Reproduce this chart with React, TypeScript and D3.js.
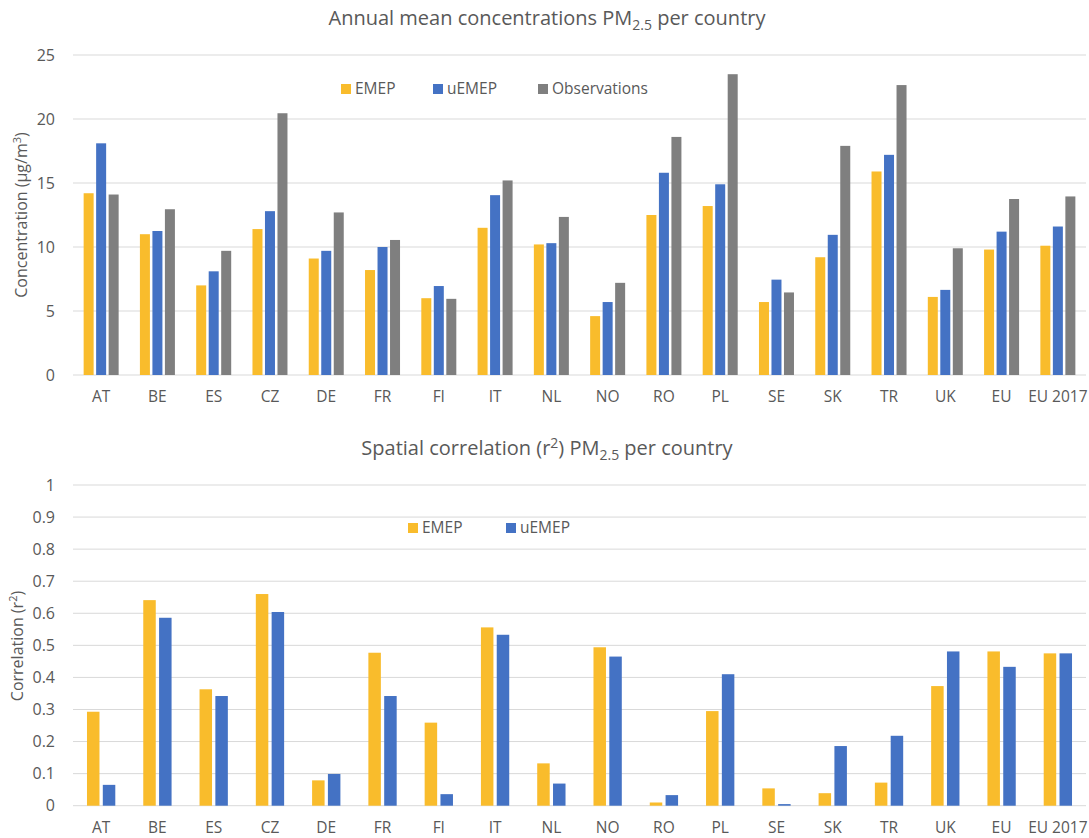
import React from "react";
import * as d3 from "d3";

// Countries / aggregates shown on both panels
const categories = ["AT", "BE", "ES", "CZ", "DE", "FR", "FI", "IT", "NL", "NO", "RO", "PL", "SE", "SK", "TR", "UK", "EU", "EU 2017"];

// Annual mean PM2.5 concentrations (µg/m³)
const concEMEP = [14.2, 11.0, 7.0, 11.4, 9.1, 8.2, 6.0, 11.5, 10.2, 4.6, 12.5, 13.2, 5.7, 9.2, 15.9, 6.1, 9.8, 10.1];
const concUEMEP = [18.1, 11.25, 8.1, 12.8, 9.7, 10.0, 6.95, 14.05, 10.3, 5.7, 15.8, 14.9, 7.45, 10.95, 17.2, 6.65, 11.2, 11.6];
const concObs = [14.1, 12.95, 9.7, 20.45, 12.7, 10.55, 5.95, 15.2, 12.35, 7.2, 18.6, 23.5, 6.45, 17.9, 22.65, 9.9, 13.75, 13.95];

// Spatial correlation (r²)
const corrEMEP = [0.293, 0.641, 0.363, 0.66, 0.079, 0.477, 0.259, 0.556, 0.132, 0.494, 0.01, 0.295, 0.054, 0.039, 0.072, 0.373, 0.481, 0.475];
const corrUEMEP = [0.065, 0.586, 0.342, 0.604, 0.099, 0.342, 0.036, 0.533, 0.069, 0.465, 0.033, 0.41, 0.005, 0.186, 0.218, 0.481, 0.433, 0.475];

const concTicks = [0, 5, 10, 15, 20, 25];
const corrTicks = [0, 0.1, 0.2, 0.3, 0.4, 0.5, 0.6, 0.7, 0.8, 0.9, 1];

const COLORS = { EMEP: "#F9BC2C", uEMEP: "#4472C4", Observations: "#7F7F7F" };
const TEXT = "#595959";
const GRID = "#D9D9D9";
const FONT = "'Open Sans', 'Noto Sans', sans-serif";

const PLOT_LEFT = 73;
const PLOT_RIGHT = 1086;

type Series = { name: keyof typeof COLORS; values: number[] };

function BarPanel(props: {
  series: Series[];
  yDomain: [number, number];
  yRange: [number, number];
  ticks: number[];
  tickFormat: (v: number) => string;
  groupFrac: number;
  innerPad: number;
  xLabelY: number;
}) {
  const { series, yDomain, yRange, ticks, tickFormat, groupFrac, innerPad, xLabelY } = props;
  const x0 = d3.scaleBand<string>().domain(categories).range([PLOT_LEFT, PLOT_RIGHT]).padding(0);
  const groupW = x0.bandwidth() * groupFrac;
  const x1 = d3
    .scaleBand<string>()
    .domain(series.map((s) => s.name))
    .range([0, groupW])
    .paddingInner(innerPad);
  const y = d3.scaleLinear().domain(yDomain).range(yRange);
  const off = (x0.bandwidth() - groupW) / 2;

  return (
    <g>
      {ticks.map((t) => (
        <g key={t}>
          <line x1={PLOT_LEFT} x2={PLOT_RIGHT} y1={y(t)} y2={y(t)} stroke={GRID} strokeWidth={1} />
          <text x={55} y={y(t)} dy="0.35em" textAnchor="end" fontSize={16} fill={TEXT}>
            {tickFormat(t)}
          </text>
        </g>
      ))}
      {categories.map((c, i) => (
        <g key={c}>
          {series.map((s) => (
            <rect
              key={s.name}
              x={(x0(c) as number) + off + (x1(s.name) as number)}
              y={y(s.values[i])}
              width={x1.bandwidth()}
              height={y(0) - y(s.values[i])}
              fill={COLORS[s.name]}
            />
          ))}
          <text
            x={(x0(c) as number) + x0.bandwidth() / 2}
            y={xLabelY}
            dy="0.35em"
            textAnchor="middle"
            fontSize={15.5}
            fill={TEXT}
          >
            {c}
          </text>
        </g>
      ))}
    </g>
  );
}

function Legend(props: { items: { name: keyof typeof COLORS; x: number }[]; y: number }) {
  return (
    <g>
      {props.items.map((it) => (
        <g key={it.name}>
          <rect x={it.x} y={props.y - 5} width={10} height={10} fill={COLORS[it.name]} />
          <text x={it.x + 14} y={props.y} dy="0.35em" fontSize={15.5} fill={TEXT}>
            {it.name}
          </text>
        </g>
      ))}
    </g>
  );
}

export default function App() {
  return (
    <svg
      width={1089}
      height={838}
      style={{ position: "absolute", left: 0, top: 0, background: "#fff" }}
      fontFamily={FONT}
    >
      <rect width={1089} height={838} fill="#fff" />

      {/* Top panel: annual mean concentrations */}
      <text x={547} y={25} textAnchor="middle" fontSize={20} fill={TEXT}>
        Annual mean concentrations PM
        <tspan fontSize={14} dy={5}>2.5</tspan>
        <tspan dy={-5}> per country</tspan>
      </text>
      <text transform="translate(27,215) rotate(-90)" textAnchor="middle" fontSize={16} fill={TEXT}>
        Concentration (µg/m
        <tspan fontSize={11} dy={-6}>3</tspan>
        <tspan dy={6}>)</tspan>
      </text>
      <BarPanel
        series={[
          { name: "EMEP", values: concEMEP },
          { name: "uEMEP", values: concUEMEP },
          { name: "Observations", values: concObs },
        ]}
        yDomain={[0, 25]}
        yRange={[375, 55]}
        ticks={concTicks}
        tickFormat={(v) => String(v)}
        groupFrac={0.622}
        innerPad={0.2}
        xLabelY={397}
      />
      <Legend
        y={89}
        items={[
          { name: "EMEP", x: 341 },
          { name: "uEMEP", x: 433 },
          { name: "Observations", x: 538 },
        ]}
      />

      {/* Bottom panel: spatial correlation */}
      <text x={547} y={455} textAnchor="middle" fontSize={20} fill={TEXT}>
        Spatial correlation (r
        <tspan fontSize={14} dy={-7}>2</tspan>
        <tspan dy={7}>) PM</tspan>
        <tspan fontSize={14} dy={5}>2.5</tspan>
        <tspan dy={-5}> per country</tspan>
      </text>
      <text transform="translate(23,646) rotate(-90)" textAnchor="middle" fontSize={16} fill={TEXT}>
        Correlation (r
        <tspan fontSize={11} dy={-6}>2</tspan>
        <tspan dy={6}>)</tspan>
      </text>
      <BarPanel
        series={[
          { name: "EMEP", values: corrEMEP },
          { name: "uEMEP", values: corrUEMEP },
        ]}
        yDomain={[0, 1]}
        yRange={[805.7, 485]}
        ticks={corrTicks}
        tickFormat={(v) => String(Math.round(v * 10) / 10)}
        groupFrac={0.503}
        innerPad={0.21}
        xLabelY={828}
      />
      <Legend
        y={528}
        items={[
          { name: "EMEP", x: 408 },
          { name: "uEMEP", x: 506 },
        ]}
      />
    </svg>
  );
}
